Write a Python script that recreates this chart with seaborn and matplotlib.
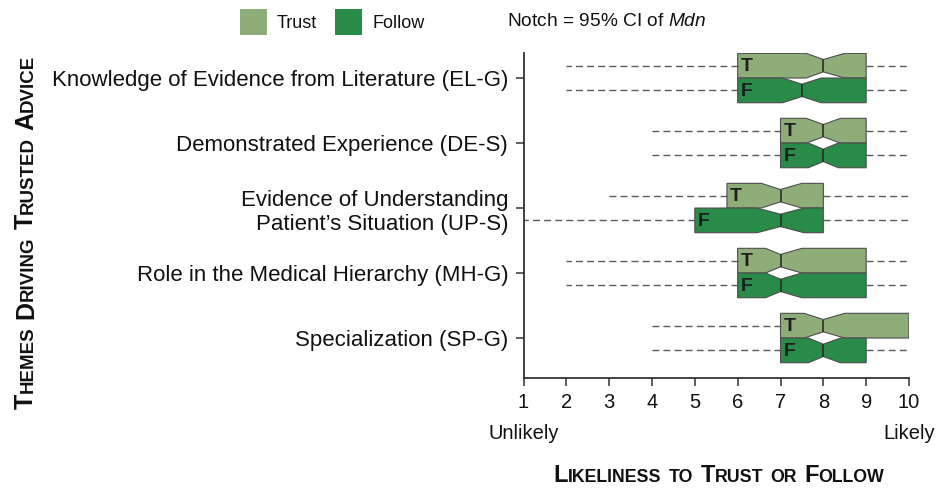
import numpy as np
import matplotlib
matplotlib.use("Agg")
import matplotlib.pyplot as plt
import seaborn as sns
from matplotlib.patches import Patch

# Data
themes = [
    "Knowledge of Evidence from Literature (EL-G)",
    "Demonstrated Experience (DE-S)",
    "Evidence of Understanding\nPatient\u2019s Situation (UP-S)",
    "Role in the Medical Hierarchy (MH-G)",
    "Specialization (SP-G)",
]

trust_low = [2, 4, 3, 2, 4]
trust_q1 = [6, 7, 5.75, 6, 7]
trust_med = [8, 8, 7, 7, 8]
trust_q3 = [9, 9, 8, 9, 10]
trust_high = [10, 10, 10, 10, 10]
trust_ci_lo = [7.6, 7.6, 6.55, 6.65, 7.55]
trust_ci_hi = [8.5, 8.4, 7.5, 7.5, 8.5]

follow_low = [2, 4, 1, 2, 4]
follow_q1 = [6, 7, 5, 6, 7]
follow_med = [7.5, 8, 7, 7, 8]
follow_q3 = [9, 9, 8, 9, 9]
follow_high = [10, 10, 10, 10, 10]
follow_ci_lo = [7.05, 7.65, 6.45, 6.65, 7.65]
follow_ci_hi = [7.95, 8.35, 7.55, 7.5, 8.4]

x_ticks = [1, 2, 3, 4, 5, 6, 7, 8, 9, 10]
groups = ["Trust", "Follow"]
letters = ["T", "F"]
colors = ["#8fad79", "#288b48"]

sns.set_theme(style="ticks")
plt.rcParams["font.family"] = ["Liberation Sans", "DejaVu Sans"]
plt.rcParams["mathtext.fontset"] = "custom"
plt.rcParams["mathtext.rm"] = "Liberation Sans"
plt.rcParams["mathtext.it"] = "Liberation Sans:italic"
for key in ["text.color", "axes.labelcolor", "xtick.labelcolor", "ytick.labelcolor"]:
    plt.rcParams[key] = "#111111"

W, H = 941, 490
fig = plt.figure(figsize=(W / 100, H / 100), dpi=100)
ax = fig.add_axes([523.5 / W, 1 - 378 / H, (909 - 523.5) / W, (378 - 53) / H])


# Build bxp stats from the named lists
def make_stats(low, q1, med, q3, high, cilo, cihi):
    stats = []
    for i in range(len(low)):
        stats.append({"whislo": low[i], "q1": q1[i], "med": med[i], "q3": q3[i],
                      "whishi": high[i], "cilo": cilo[i], "cihi": cihi[i],
                      "mean": med[i], "fliers": []})
    return stats


series = [
    make_stats(trust_low, trust_q1, trust_med, trust_q3, trust_high, trust_ci_lo, trust_ci_hi),
    make_stats(follow_low, follow_q1, follow_med, follow_q3, follow_high, follow_ci_lo, follow_ci_hi),
]
q1s = [trust_q1, follow_q1]
offset = 0.19
width = 0.38
base = np.arange(len(themes))

for k, stats in enumerate(series):
    pos = base + (-offset if k == 0 else offset)
    ax.bxp(stats, positions=pos, widths=width, orientation="horizontal",
           patch_artist=True, shownotches=True, showcaps=False, showfliers=False,
           manage_ticks=False,
           boxprops=dict(facecolor=colors[k], edgecolor="#4d4d4d", linewidth=0.8),
           medianprops=dict(color="#2b2b2b", linewidth=1.2),
           whiskerprops=dict(color="#5a5a5a", linewidth=1.0, linestyle=(0, (5, 3))))
    for i, p in enumerate(pos):
        ax.text(q1s[k][i] + 0.07, p + 0.02, letters[k], ha="left", va="center",
                fontsize=14, fontweight="bold", color="#1e1e1e")

ax.set_xlim(1, 10)
ax.set_ylim(len(themes) - 0.385, -0.385)
ax.set_xticks(x_ticks)
ax.set_xticklabels([str(t) for t in x_ticks], fontsize=14.5)
ax.set_yticks(base)
ax.set_yticklabels(themes, fontsize=16)
ax.tick_params(axis="both", length=6, width=1.1, color="#333333", pad=5)
ax.tick_params(axis="x", pad=5)
sns.despine(ax=ax)
for side in ["left", "bottom"]:
    ax.spines[side].set_color("#333333")
    ax.spines[side].set_linewidth(1.3)

ax.text(1, -0.14, "Unlikely", transform=ax.get_xaxis_transform(), ha="center",
        va="top", fontsize=14.5)
ax.text(10, -0.14, "Likely", transform=ax.get_xaxis_transform(), ha="center",
        va="top", fontsize=14.5)

# Legend at the top
handles = [Patch(facecolor=c, edgecolor="none") for c in colors]
fig.legend(handles, groups, loc="center left", bbox_to_anchor=(240 / W, 1 - 22 / H),
           ncol=2, frameon=False, fontsize=13, handlelength=1.5, handleheight=1.9,
           handletextpad=0.55, columnspacing=1.0, borderpad=0, borderaxespad=0)
fig.text(507 / W, 1 - 22 / H, r"Notch = 95% CI of $\mathit{Mdn}$", ha="left",
         va="center", fontsize=13.8)


# Small caps titles drawn piece by piece
def small_caps(text, x, y, big, small, rotation=0):
    renderer = fig.canvas.get_renderer()
    words = []
    for word in text.split(" "):
        parts = []
        for ch in word:
            size = big if ch.isupper() else small
            if parts and parts[-1][1] == size:
                parts[-1][0] += ch.upper()
            else:
                parts.append([ch.upper(), size])
        for part in parts:
            t = fig.text(0, 0, part[0], fontsize=part[1], fontweight="bold")
            part.append(t.get_window_extent(renderer).width)
            t.remove()
        words.append(parts)
    gap = 0.4 * small * fig.dpi / 72
    total = sum(p[2] for w in words for p in w) + gap * (len(words) - 1)
    dx, dy = (1, 0) if rotation == 0 else (0, 1)
    d = -total / 2
    for w in words:
        for s, size, wd in w:
            fig.text((x + dx * d) / W, (y + dy * d) / H, s, fontsize=size,
                     fontweight="bold", rotation=rotation, rotation_mode="anchor",
                     ha="left", va="baseline", color="#111111")
            d += wd
        d += gap


small_caps("Likeliness to Trust or Follow", 719, 8, 17, 12.8)
small_caps("Themes Driving Trusted Advice", 33, 258.5, 18, 13.5, rotation=90)

fig.savefig("out.png", dpi=100)
